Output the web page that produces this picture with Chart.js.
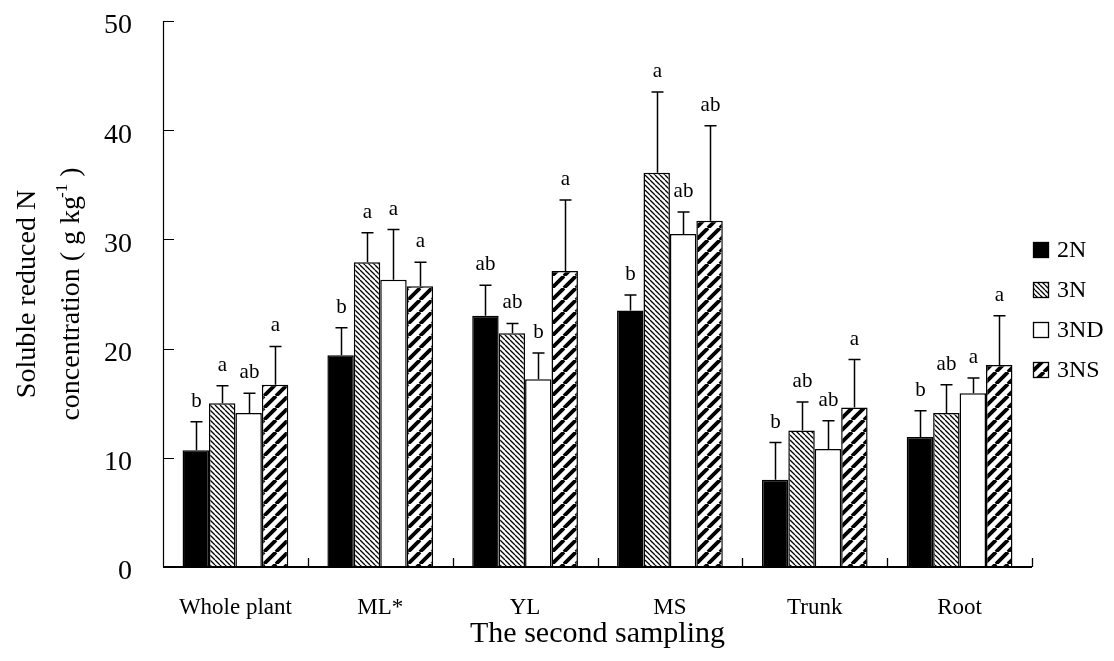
<!DOCTYPE html>
<html>
<head>
<meta charset="utf-8">
<title>Soluble reduced N concentration</title>
<script src="https://cdn.jsdelivr.net/npm/chart.js@4.4.1/dist/chart.umd.min.js"></script>
<style>
  html, body { margin: 0; padding: 0; background: #fff; }
  #wrap { width: 1114px; height: 661px; }
</style>
</head>
<body>
<div id="wrap"><canvas id="chart" width="1114" height="661"></canvas></div>
<script>
// Plant parts sampled at the second sampling
const categories = ['Whole plant', 'ML*', 'YL', 'MS', 'Trunk', 'Root'];
const seriesNames = ['2N', '3N', '3ND', '3NS'];

// Mean soluble reduced N (g kg-1)
const mean2N  = [10.7, 19.4, 23.0, 23.5,  8.0, 11.9];
const mean3N  = [15.0, 27.9, 21.4, 36.1, 12.5, 14.1];
const mean3ND = [14.1, 26.3, 17.2, 30.5, 10.8, 15.9];
const mean3NS = [16.7, 25.7, 27.1, 31.7, 14.6, 18.5];

// Standard deviations (upper error bars)
const sd2N  = [2.6, 2.5, 2.8, 1.4, 3.4, 2.4];
const sd3N  = [1.6, 2.7, 0.9, 7.4, 2.6, 2.6];
const sd3ND = [1.8, 4.6, 2.4, 2.0, 2.6, 1.4];
const sd3NS = [3.5, 2.2, 6.5, 8.7, 4.4, 4.5];

// Significance letters
const sig2N  = ['b', 'b', 'ab', 'b', 'b', 'b'];
const sig3N  = ['a', 'a', 'ab', 'a', 'ab', 'ab'];
const sig3ND = ['ab', 'a', 'b', 'ab', 'ab', 'a'];
const sig3NS = ['a', 'a', 'a', 'ab', 'a', 'a'];

// Value axis
const yMin = 0, yMax = 50, yStep = 10;

const SERIF = '"Liberation Serif", "Times New Roman", serif';

// Plot frame inside the canvas
const FRAME = { left: 163, top: 21, right: 1032, bottom: 567 };

// Hatch fills
function hatch(size, width, dir) {
  const c = document.createElement('canvas');
  c.width = size; c.height = size;
  const g = c.getContext('2d');
  g.fillStyle = '#fff';
  g.fillRect(0, 0, size, size);
  g.strokeStyle = '#000';
  g.lineWidth = width;
  g.beginPath();
  for (let k = -size; k <= size; k += size) {
    if (dir === 'back') { g.moveTo(k, 0); g.lineTo(k + size, size); }
    else { g.moveTo(k, size); g.lineTo(k + size, 0); }
  }
  g.stroke();
  return g.createPattern(c, 'repeat');
}
const fineBack = hatch(5, 1.3, 'back');
const wideFwd = hatch(12, 3.8, 'fwd');

const fills = ['#000000', fineBack, '#ffffff', wideFwd];
const means = [mean2N, mean3N, mean3ND, mean3NS];
const sds = [sd2N, sd3N, sd3ND, sd3NS];
const sigs = [sig2N, sig3N, sig3ND, sig3NS];

const datasets = seriesNames.map((name, i) => ({
  label: name,
  data: means[i],
  backgroundColor: fills[i],
  borderColor: '#000',
  borderWidth: 1.5,
  borderSkipped: 'bottom',
  sd: sds[i],
  sig: sigs[i],
  categoryPercentage: 0.73,
  barPercentage: 1.0
}));

const decor = {
  id: 'decor',
  afterDatasetsDraw(chart) {
    const ctx = chart.ctx;
    const y = chart.scales.y;
    ctx.save();
    ctx.strokeStyle = '#000';
    ctx.fillStyle = '#000';
    ctx.lineWidth = 1.5;
    ctx.font = '21px ' + SERIF;
    ctx.textAlign = 'center';
    ctx.textBaseline = 'alphabetic';
    chart.data.datasets.forEach((ds, i) => {
      const meta = chart.getDatasetMeta(i);
      meta.data.forEach((bar, j) => {
        const top = y.getPixelForValue(ds.data[j] + ds.sd[j]);
        const x = Math.round(bar.x) + 0.5;
        ctx.beginPath();
        ctx.moveTo(x, bar.y);
        ctx.lineTo(x, top);
        ctx.moveTo(x - 6, top);
        ctx.lineTo(x + 6, top);
        ctx.stroke();
        ctx.fillText(ds.sig[j], x, top - 15);
      });
    });
    ctx.restore();
  },
  afterDraw(chart) {
    const ctx = chart.ctx;
    const area = chart.chartArea;
    const x = chart.scales.x;
    const y = chart.scales.y;
    ctx.save();
    ctx.strokeStyle = '#000';

    // value axis line and inward ticks
    ctx.lineWidth = 1.2;
    ctx.beginPath();
    ctx.moveTo(area.left + 0.5, area.top);
    ctx.lineTo(area.left + 0.5, area.bottom);
    for (let v = yMin; v <= yMax; v += yStep) {
      const py = Math.round(y.getPixelForValue(v)) + 0.5;
      ctx.moveTo(area.left, py);
      ctx.lineTo(area.left + 11, py);
    }
    ctx.stroke();

    // category axis line and boundary ticks
    ctx.lineWidth = 2;
    ctx.beginPath();
    ctx.moveTo(area.left, area.bottom);
    ctx.lineTo(area.right, area.bottom);
    ctx.stroke();
    ctx.lineWidth = 1.3;
    ctx.beginPath();
    for (let i = 0; i < categories.length; i++) {
      const bx = i < categories.length - 1
        ? (x.getPixelForValue(i) + x.getPixelForValue(i + 1)) / 2
        : area.right;
      const px = Math.round(bx) + 0.5;
      ctx.moveTo(px, area.bottom);
      ctx.lineTo(px, area.bottom - 9);
    }
    ctx.stroke();

    // axis titles
    ctx.fillStyle = '#000';
    ctx.font = '30px ' + SERIF;
    ctx.textAlign = 'center';
    ctx.textBaseline = 'alphabetic';
    ctx.fillText('The second sampling', (area.left + area.right) / 2, 642);

    const midY = (area.top + area.bottom) / 2;
    ctx.save();
    ctx.translate(35, midY);
    ctx.rotate(-Math.PI / 2);
    ctx.font = '28px ' + SERIF;
    ctx.textAlign = 'center';
    ctx.fillText('Soluble reduced N', 0, 0);
    ctx.restore();

    ctx.save();
    ctx.translate(79, midY);
    ctx.rotate(-Math.PI / 2);
    const big = '28px ' + SERIF, small = '17px ' + SERIF;
    const partA = 'concentration ( g kg', sup = '-1', partB = ' )';
    ctx.font = big;
    const wA = ctx.measureText(partA).width;
    const wB = ctx.measureText(partB).width;
    ctx.font = small;
    const wS = ctx.measureText(sup).width;
    const total = wA + wS - 2 + wB;
    let cx = -total / 2;
    ctx.textAlign = 'left';
    ctx.font = big;
    ctx.fillText(partA, cx, 0);
    cx += wA - 2;
    ctx.font = small;
    ctx.fillText(sup, cx, -12);
    cx += wS;
    ctx.font = big;
    ctx.fillText(partB, cx, 0);
    ctx.restore();

    // legend
    ctx.font = '24px ' + SERIF;
    ctx.textAlign = 'left';
    ctx.textBaseline = 'middle';
    chart.data.datasets.forEach((ds, i) => {
      const cy = 250 + i * 40;
      ctx.fillStyle = ds.backgroundColor;
      ctx.fillRect(1033, cy - 8, 16, 16);
      ctx.lineWidth = 1.3;
      ctx.strokeStyle = '#000';
      ctx.strokeRect(1033.5, cy - 7.5, 15, 15);
      ctx.fillStyle = '#000';
      ctx.fillText(ds.label, 1057, cy + 1);
    });
    ctx.restore();
  }
};

const padding = { top: 21, right: 82, left: 0, bottom: 0 };

const chart = new Chart(document.getElementById('chart'), {
  type: 'bar',
  data: { labels: categories, datasets },
  options: {
    responsive: false,
    devicePixelRatio: 1,
    animation: false,
    layout: { padding },
    plugins: {
      legend: { display: false },
      tooltip: { enabled: false },
      title: { display: false }
    },
    scales: {
      x: {
        grid: { display: false, drawTicks: false },
        border: { display: false },
        ticks: {
          color: '#000',
          font: { family: SERIF, size: 23 },
          padding: 27,
          maxRotation: 0,
          autoSkip: false
        },
        afterFit(scale) {
          scale.height = 94;
          scale.paddingLeft = 0;
          scale.paddingRight = 0;
        }
      },
      y: {
        min: yMin,
        max: yMax,
        grid: { display: false, drawTicks: false },
        border: { display: false },
        ticks: {
          stepSize: yStep,
          color: '#000',
          font: { family: SERIF, size: 28 },
          padding: 31,
          labelOffset: 5
        },
        afterFit(scale) {
          scale.width = 163;
          scale.paddingTop = 0;
          scale.paddingBottom = 0;
        }
      }
    }
  },
  plugins: [decor]
});

// Nudge the layout padding so the plot frame lands where intended
for (let pass = 0; pass < 4; pass++) {
  const a = chart.chartArea;
  const dTop = a.top - FRAME.top;
  const dBottom = FRAME.bottom - a.bottom;
  const dLeft = a.left - FRAME.left;
  const dRight = FRAME.right - a.right;
  if (Math.abs(dTop) < 0.5 && Math.abs(dBottom) < 0.5 &&
      Math.abs(dLeft) < 0.5 && Math.abs(dRight) < 0.5) break;
  const p = chart.config.options.layout.padding;
  p.top -= dTop;
  p.bottom -= dBottom;
  p.left -= dLeft;
  p.right -= dRight;
  chart.update('none');
}
</script>
</body>
</html>
